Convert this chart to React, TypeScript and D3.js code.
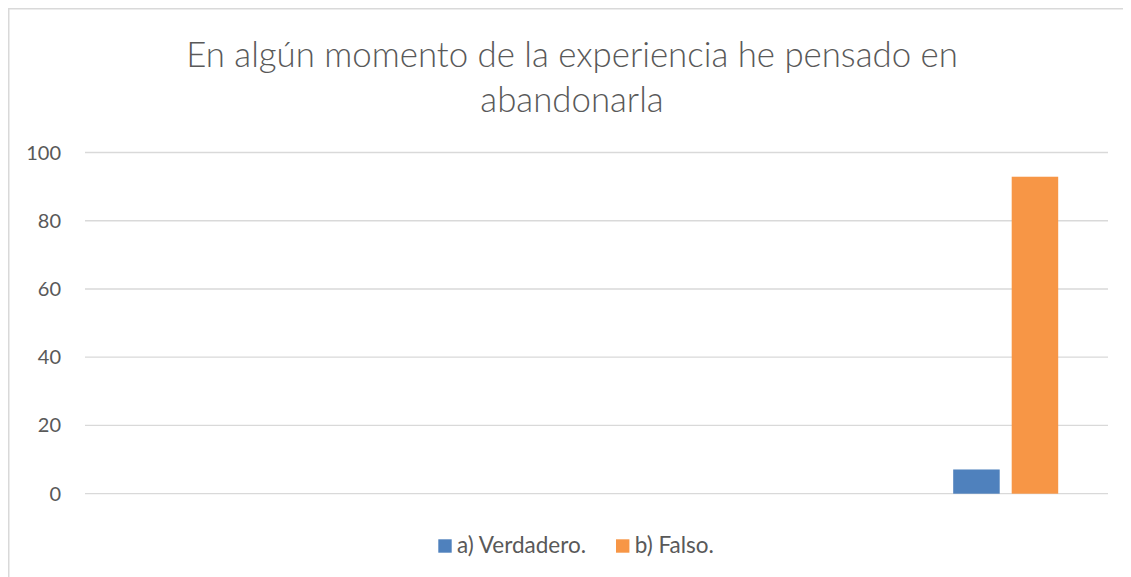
import React from "react";
import * as d3 from "d3";

const categories = ["c1", "c2", "c3", "c4", "c5"];
const seriesNames = ["a) Verdadero.", "b) Falso."];
const verdadero: (number | null)[] = [null, null, null, null, 7.1];
const falso: (number | null)[] = [null, null, null, null, 92.9];
const yTicks = [0, 20, 40, 60, 80, 100];
const titleLines = ["En algún momento de la experiencia he pensado en", "abandonarla"];
const colors = ["#4F81BD", "#F79646"];

const W = 1123;
const H = 569;
const FONT = "Lato, 'Open Sans', sans-serif";
const TEXT = "#595959";

export default function App() {
  const x0 = d3.scaleBand<string>().domain(categories).range([77, 1100]).paddingInner(0).paddingOuter(0);
  const y = d3.scaleLinear().domain([0, 100]).range([485.7, 144.5]);
  const groupW = 105;
  const x1 = d3
    .scaleBand<string>()
    .domain(seriesNames)
    .range([(x0.bandwidth() - groupW) / 2, (x0.bandwidth() + groupW) / 2])
    .paddingInner(0.205)
    .paddingOuter(0);
  const series = [verdadero, falso];

  return (
    <svg width={W} height={H} style={{ display: "block" }}>
      <rect x={0} y={0} width={W} height={H} fill="#fff" />
      <line x1={0} y1={0.75} x2={W} y2={0.75} stroke="#D9D9D9" strokeWidth={1.5} />
      <line x1={0.75} y1={0} x2={0.75} y2={H} stroke="#D9D9D9" strokeWidth={1.5} />
      {titleLines.map((t, i) => (
        <text key={i} x={564} y={58.5 + i * 45} textAnchor="middle" fontFamily={FONT} fontSize={34.8} fontWeight={300} fill={TEXT}>
          {t}
        </text>
      ))}
      {yTicks.map((t) => (
        <g key={t}>
          <line x1={77} x2={1100} y1={y(t)} y2={y(t)} stroke="#D9D9D9" strokeWidth={1.3} />
          <text x={53} y={y(t)} dy="0.35em" textAnchor="end" fontFamily={FONT} fontSize={20} fill={TEXT}>
            {t}
          </text>
        </g>
      ))}
      {categories.map((c, ci) =>
        series.map((s, si) => {
          const v = s[ci];
          if (v == null) return null;
          return (
            <rect
              key={c + si}
              x={(x0(c) as number) + (x1(seriesNames[si]) as number)}
              y={y(v)}
              width={x1.bandwidth()}
              height={y(0) - y(v)}
              fill={colors[si]}
            />
          );
        })
      )}
      {seriesNames.map((n, i) => {
        const lx = [430.3, 608][i];
        return (
          <g key={n}>
            <rect x={lx} y={531.3} width={13.4} height={13.4} fill={colors[i]} />
            <text x={lx + 18.7} y={544.7} fontFamily={FONT} fontSize={22.5} fill={TEXT}>
              {n}
            </text>
          </g>
        );
      })}
    </svg>
  );
}
